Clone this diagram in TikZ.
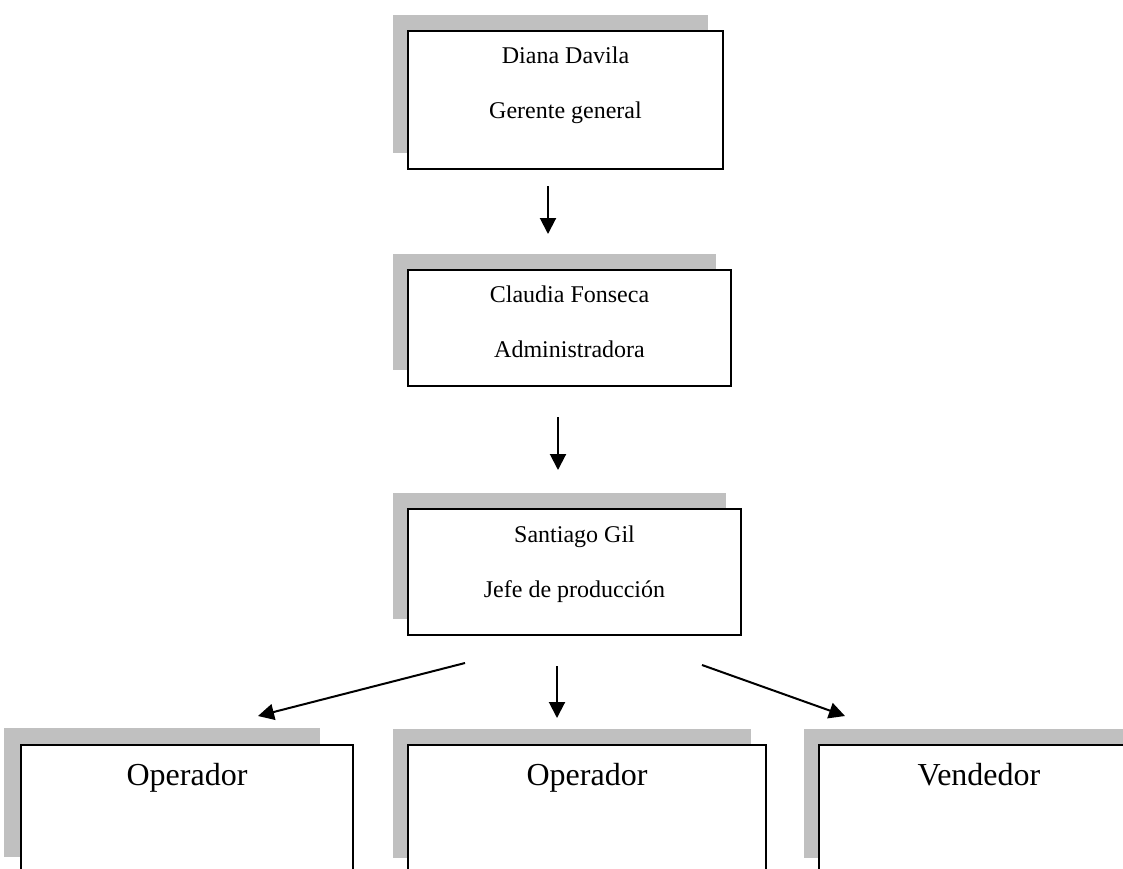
\documentclass[tikz,border=0pt]{standalone}
\usepackage{fontspec}
\setmainfont{Liberation Serif}
\usetikzlibrary{arrows.meta,calc,positioning,shadows}
\definecolor{shadowgray}{RGB}{192,192,192}

\begin{document}
\begin{tikzpicture}[
    x=0.5pt, y=-0.5pt,
    plainbox/.style={rectangle, draw, line width=1pt, fill=white, anchor=north west, inner sep=0pt},
    box/.style={plainbox, general shadow={fill=shadowgray, shadow xshift=-7.5pt, shadow yshift=8pt}},
    nametext/.style={anchor=base, font=\fontsize{12}{14}\selectfont},
    roletext/.style={anchor=base, font=\fontsize{16}{19}\selectfont},
    arrow/.style={-{Triangle[length=8pt, width=8pt]}, line width=1pt}
]
\useasboundingbox (0,0) rectangle (1123,868);
\clip (0,0) rectangle (1123,868);

% Gerente general
\node[box, minimum width=157.5pt, minimum height=69pt] (gerente) at (407,30) {};
\node[nametext] (gerenteNombre) at ($(gerente.north)+(0,33)$) {Diana Davila};
\node[nametext] (gerenteCargo) at ($(gerente.north)+(0,88)$) {Gerente general};

% Administradora
\node[box, minimum width=161.5pt, minimum height=58pt] (admin) at (407,269) {};
\node[nametext] (adminNombre) at ($(admin.north)+(0,33)$) {Claudia Fonseca};
\node[nametext] (adminCargo) at ($(admin.north)+(0,88)$) {Administradora};

% Jefe de produccion
\node[box, minimum width=166.5pt, minimum height=63pt] (jefe) at (407,508) {};
\node[nametext] (jefeNombre) at ($(jefe.north)+(0,34)$) {Santiago Gil};
\node[nametext] (jefeCargo) at ($(jefe.north)+(0,89)$) {Jefe de producción};

% Operadores y vendedor
\fill[shadowgray] (4,728) rectangle (320,857);
\node[plainbox, minimum width=166pt, minimum height=64.5pt] (op1) at (20,744) {};
\node[roletext] (op1Cargo) at ($(op1.north)+(0,41)$) {Operador};

\node[box, minimum width=179pt, minimum height=64.5pt] (op2) at (407,744) {};
\node[roletext] (op2Cargo) at ($(op2.north)+(0,41)$) {Operador};

\node[box, minimum width=160pt, minimum height=64.5pt] (vend) at (818,744) {};
\node[roletext] (vendCargo) at ($(vend.north)+(0,41)$) {Vendedor};

% Flechas
\coordinate (g1) at (548,186);
\coordinate (g2) at (548,234);
\coordinate (a1) at (558,417);
\coordinate (a2) at (558,470);
\coordinate (j1) at (557,666);
\coordinate (j2) at (557,718);
\coordinate (l1) at (465,663);
\coordinate (l2) at (258,716);
\coordinate (r1) at (702,665);
\coordinate (r2) at (845,716);

\draw[arrow] (g1) -- (g2);
\draw[arrow] (a1) -- (a2);
\draw[arrow] (j1) -- (j2);
\draw[arrow] (l1) -- (l2);
\draw[arrow] (r1) -- (r2);

\end{tikzpicture}
\end{document}
